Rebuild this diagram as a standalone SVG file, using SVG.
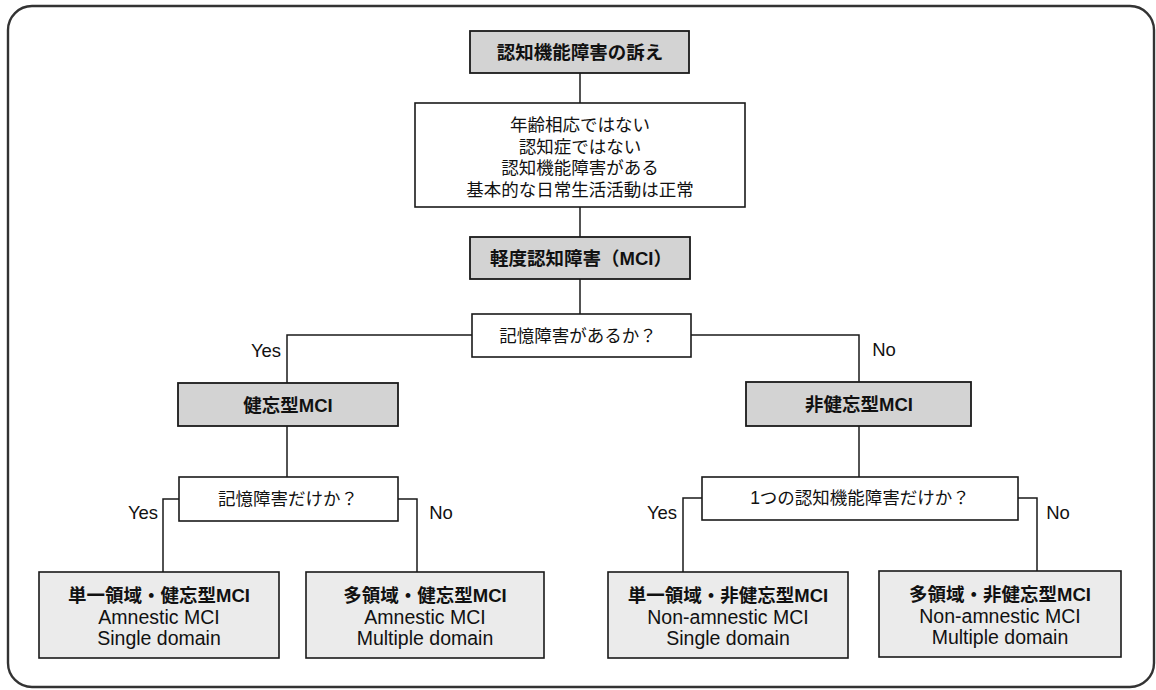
<svg xmlns="http://www.w3.org/2000/svg" width="1156" height="690" viewBox="0 0 1156 690">
<style>
  .frame{fill:#ffffff;stroke:#333333;stroke-width:2.4}
  .box{fill:#ffffff;stroke:#1a1a1a;stroke-width:1.6}
  .gbox{fill:#d3d3d3;stroke:#1a1a1a;stroke-width:1.8}
  .lbox{fill:#ebebeb;stroke:#1a1a1a;stroke-width:1.6}
  .conn{fill:none;stroke:#1a1a1a;stroke-width:1.5}
  text{font-family:"Liberation Sans","Noto Sans CJK JP",sans-serif;fill:#111;text-anchor:middle;dominant-baseline:central}
  .t{font-size:17.5px}
  .b{font-size:18.5px;font-weight:bold}
  .l{font-size:19.5px}
  .yn{font-size:18.5px}
</style>
<rect class="frame" x="8" y="6" width="1146" height="681" rx="24" ry="24"/>
<g id="connectors">
  <path class="conn" d="M580 73 V103"/>
  <path class="conn" d="M580 207 V237"/>
  <path class="conn" d="M580 279 V314"/>
  <path class="conn" d="M472 335 H287 V383"/>
  <path class="conn" d="M691 335 H859 V382"/>
  <path class="conn" d="M287 426 V477"/>
  <path class="conn" d="M859 426 V477"/>
  <path class="conn" d="M179 499 H163 V572"/>
  <path class="conn" d="M398 499 H417 V572"/>
  <path class="conn" d="M702 498 H683 V572"/>
  <path class="conn" d="M1018 498 H1037 V571"/>
  <text class="yn" x="266" y="350">Yes</text>
  <text class="yn" x="884" y="349">No</text>
  <text class="yn" x="143" y="512">Yes</text>
  <text class="yn" x="441" y="512">No</text>
  <text class="yn" x="662" y="512">Yes</text>
  <text class="yn" x="1058" y="512">No</text>
</g>
<g id="n-complaint">
  <rect class="gbox" x="470" y="31" width="219" height="42"/>
  <text class="b" x="580" y="52">認知機能障害の訴え</text>
</g>
<g id="n-criteria">
  <rect class="box" x="415" y="103" width="330" height="104"/>
  <text class="t" x="580" y="125">年齢相応ではない</text>
  <text class="t" x="580" y="146.5">認知症ではない</text>
  <text class="t" x="580" y="168">認知機能障害がある</text>
  <text class="t" x="580" y="190">基本的な日常生活活動は正常</text>
</g>
<g id="n-mci">
  <rect class="gbox" x="470" y="237" width="220" height="42"/>
  <text class="b" x="581" y="258">軽度認知障害（MCI）</text>
</g>
<g id="n-q1">
  <rect class="box" x="472" y="314" width="219" height="43"/>
  <text class="t" x="578" y="336">記憶障害があるか？</text>
</g>
<g id="n-amnestic">
  <rect class="gbox" x="178" y="383" width="220" height="43"/>
  <text class="b" x="288" y="405">健忘型MCI</text>
</g>
<g id="n-nonamnestic">
  <rect class="gbox" x="746" y="382" width="225" height="44"/>
  <text class="b" x="859" y="404">非健忘型MCI</text>
</g>
<g id="n-q2">
  <rect class="box" x="179" y="477" width="219" height="44"/>
  <text class="t" x="288" y="499">記憶障害だけか？</text>
</g>
<g id="n-q3">
  <rect class="box" x="702" y="477" width="316" height="43"/>
  <text class="t" x="860" y="498">1つの認知機能障害だけか？</text>
</g>
<g id="n-a-single">
  <rect class="lbox" x="39" y="572" width="240" height="86"/>
  <text class="b" x="159" y="595">単一領域・健忘型MCI</text>
  <text class="l" x="159" y="617">Amnestic MCI</text>
  <text class="l" x="159" y="638">Single domain</text>
</g>
<g id="n-a-multi">
  <rect class="lbox" x="306" y="572" width="238" height="86"/>
  <text class="b" x="425" y="595">多領域・健忘型MCI</text>
  <text class="l" x="425" y="617">Amnestic MCI</text>
  <text class="l" x="425" y="638">Multiple domain</text>
</g>
<g id="n-na-single">
  <rect class="lbox" x="608" y="572" width="240" height="86"/>
  <text class="b" x="728" y="595">単一領域・非健忘型MCI</text>
  <text class="l" x="728" y="617">Non-amnestic MCI</text>
  <text class="l" x="728" y="638">Single domain</text>
</g>
<g id="n-na-multi">
  <rect class="lbox" x="879" y="571" width="242" height="86"/>
  <text class="b" x="1000" y="594">多領域・非健忘型MCI</text>
  <text class="l" x="1000" y="616">Non-amnestic MCI</text>
  <text class="l" x="1000" y="637">Multiple domain</text>
</g>
</svg>
